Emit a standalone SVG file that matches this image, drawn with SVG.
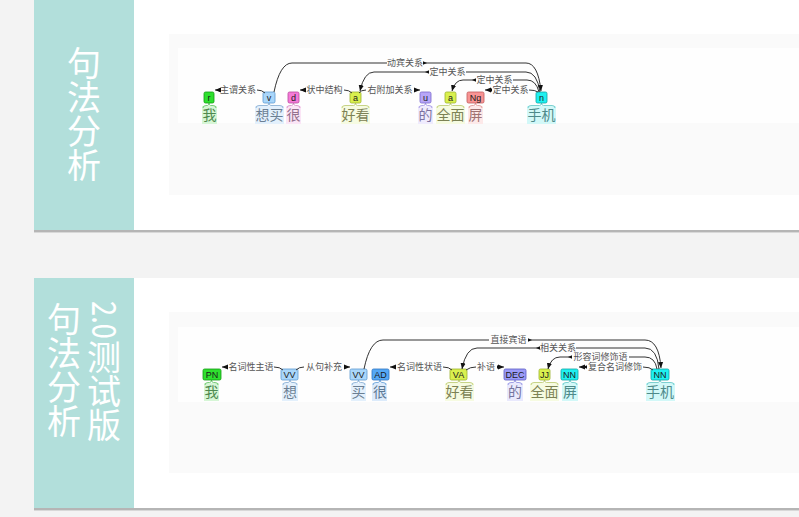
<svg xmlns="http://www.w3.org/2000/svg" width="799" height="517" viewBox="0 0 799 517">
<defs>
<style>
.side{font-family:"Noto Sans CJK SC","Noto Sans",sans-serif;font-size:34px;fill:#ffffff;writing-mode:vertical-rl}
.side2{font-family:"Noto Sans CJK SC","Noto Sans",sans-serif;font-size:34px;fill:#ffffff}
.tag{stroke-width:0.8}
.tt{font-family:"Liberation Sans","Noto Sans",sans-serif;font-size:9px;fill:#1a1a1a;text-anchor:middle}
.wd{font-family:"Noto Sans CJK SC",sans-serif;font-size:14px;text-anchor:middle}
.br{fill:none;stroke-width:0.8}
.lbl{font-family:"Noto Sans CJK SC",sans-serif;font-size:9px;fill:#555555;text-anchor:middle}
.arc{fill:none;stroke:#333333;stroke-width:1}
.tg{marker-start:url(#tick);marker-end:url(#arr)}
</style>
<marker id="arr" viewBox="0 0 6 6" refX="6" refY="3" markerWidth="6" markerHeight="6" markerUnits="userSpaceOnUse" orient="auto"><path d="M0,0.4 L6,3 L0,5.6 z" fill="#111111"/></marker>
<marker id="tick" viewBox="0 0 4 4" refX="0" refY="2" markerWidth="4" markerHeight="4" markerUnits="userSpaceOnUse" orient="auto"><path d="M0,0.2 L4,2 L0,3.8 z" fill="#111111"/></marker>
</defs>
<rect x="0" y="0" width="799" height="517" fill="#f3f3f3"/>
<!-- card 1 -->
<g id="card1">
<rect x="34" y="230" width="765" height="2" fill="#b5b5b5"/>
<rect x="34" y="232" width="765" height="1" fill="#d8d8d8"/>
<rect x="34" y="0" width="765" height="230" fill="#ffffff"/>
<rect x="34" y="0" width="100" height="230" fill="#b2dfdb"/>
<rect x="169" y="34" width="630" height="161" fill="#fafafa"/>
<rect x="178" y="48" width="621" height="75" fill="#fefefe"/>
<text class="side" x="84" y="46">句法分析</text>
</g>
<!-- card 2 -->
<g id="card2">
<rect x="34" y="508" width="765" height="2" fill="#b5b5b5"/>
<rect x="34" y="510" width="765" height="1" fill="#d8d8d8"/>
<rect x="34" y="278" width="765" height="230" fill="#ffffff"/>
<rect x="34" y="278" width="100" height="230" fill="#b2dfdb"/>
<rect x="169" y="312" width="630" height="161" fill="#fafafa"/>
<rect x="178" y="327" width="621" height="75" fill="#fefefe"/>
<text class="side" x="64" y="302">句法分析</text>
<text class="side2" transform="translate(92,301) rotate(90)" textLength="38" lengthAdjust="spacingAndGlyphs">2.0</text>
<text class="side" x="104" y="340">测试版</text>
</g>

<!-- top parse nodes -->
<g id="t-wo">
<rect x="202" y="106" width="15" height="18" fill="#d6f6d6"/>
<path class="br" stroke="#5cbf5c" d="M203,108 Q203,105.5 206,105.5 H207.5 Q209,105.5 209,103 Q209,105.5 210.5,105.5 H213 Q216,105.5 216,108"/>
<rect class="tag" x="204" y="92" width="10" height="11" rx="1.5" fill="#2ee02e" stroke="#139a13"/>
<text class="tt" x="209" y="100.5">r</text>
<text class="wd" x="209.5" y="120" fill="#4f8a4f">我</text>
</g>
<g id="t-xiangmai">
<rect x="255" y="106" width="29" height="18" fill="#e3f0fc"/>
<path class="br" stroke="#7fa8d0" d="M256,108 Q256,105.5 259,105.5 H267 Q269,105.5 269,103 Q269,105.5 271,105.5 H280 Q283,105.5 283,108"/>
<rect class="tag" x="263" y="92" width="12" height="11" rx="1.5" fill="#a9d6fa" stroke="#5e9ad0"/>
<text class="tt" x="269" y="100.5">v</text>
<text class="wd" x="269.5" y="120" fill="#6b7f93">想买</text>
</g>
<g id="t-hen">
<rect x="286" y="106" width="15" height="18" fill="#fbe5f6"/>
<path class="br" stroke="#d685c4" d="M287,108 Q287,105.5 290,105.5 H291.5 Q293.5,105.5 293.5,103 Q293.5,105.5 295.5,105.5 H297 Q300,105.5 300,108"/>
<rect class="tag" x="288" y="92" width="11" height="11" rx="1.5" fill="#f57ad8" stroke="#b84a9e"/>
<text class="tt" x="293.5" y="100.5">d</text>
<text class="wd" x="293.5" y="120" fill="#94708c">很</text>
</g>
<g id="t-haokan">
<rect x="341" y="106" width="29" height="18" fill="#f6fbe1"/>
<path class="br" stroke="#b9c86a" d="M342,108 Q342,105.5 345,105.5 H353.5 Q355.5,105.5 355.5,103 Q355.5,105.5 357.5,105.5 H366 Q369,105.5 369,108"/>
<rect class="tag" x="350" y="92" width="11" height="11" rx="1.5" fill="#d9f04e" stroke="#9cb22e"/>
<text class="tt" x="355.5" y="100.5">a</text>
<text class="wd" x="355.5" y="120" fill="#7c8254">好看</text>
</g>
<g id="t-de">
<rect x="418" y="106" width="15" height="18" fill="#efebfd"/>
<path class="br" stroke="#9c8ee0" d="M419,108 Q419,105.5 422,105.5 H423.5 Q425.5,105.5 425.5,103 Q425.5,105.5 427.5,105.5 H429 Q432,105.5 432,108"/>
<rect class="tag" x="420" y="92" width="11" height="11" rx="1.5" fill="#b7a6f7" stroke="#7a68cc"/>
<text class="tt" x="425.5" y="100.5">u</text>
<text class="wd" x="425.5" y="120" fill="#7c72a0">的</text>
</g>
<g id="t-quanmian">
<rect x="436" y="106" width="29" height="18" fill="#f6fbe1"/>
<path class="br" stroke="#b9c86a" d="M437,108 Q437,105.5 440,105.5 H448.5 Q450.5,105.5 450.5,103 Q450.5,105.5 452.5,105.5 H461 Q464,105.5 464,108"/>
<rect class="tag" x="445" y="92" width="11" height="11" rx="1.5" fill="#d9f04e" stroke="#9cb22e"/>
<text class="tt" x="450.5" y="100.5">a</text>
<text class="wd" x="450.5" y="120" fill="#7c8254">全面</text>
</g>
<g id="t-ping">
<rect x="468" y="106" width="15" height="18" fill="#fde9e9"/>
<path class="br" stroke="#de8e8e" d="M469,108 Q469,105.5 472,105.5 H473.5 Q475.5,105.5 475.5,103 Q475.5,105.5 477.5,105.5 H479 Q482,105.5 482,108"/>
<rect class="tag" x="467" y="92" width="17" height="11" rx="1.5" fill="#f89494" stroke="#c05a5a"/>
<text class="tt" x="475.5" y="100.5">Ng</text>
<text class="wd" x="475.5" y="120" fill="#a07272">屏</text>
</g>
<g id="t-shouji">
<rect x="527" y="106" width="29" height="18" fill="#d2f8f8"/>
<path class="br" stroke="#5cc4c4" d="M528,108 Q528,105.5 531,105.5 H539.5 Q541.5,105.5 541.5,103 Q541.5,105.5 543.5,105.5 H552 Q555,105.5 555,108"/>
<rect class="tag" x="536" y="92" width="11" height="11" rx="1.5" fill="#1ff0f0" stroke="#0fa3a3"/>
<text class="tt" x="541.5" y="100.5">n</text>
<text class="wd" x="541.5" y="120" fill="#4e8a8a">手机</text>
</g>

<!-- bottom parse nodes -->
<g id="b-wo">
<rect x="204" y="383" width="15" height="18" fill="#d6f6d6"/>
<path class="br" stroke="#5cbf5c" d="M205,385 Q205,382.5 208,382.5 H209.5 Q211.5,382.5 211.5,380 Q211.5,382.5 213.5,382.5 H215 Q218,382.5 218,385"/>
<rect class="tag" x="203" y="369" width="18" height="11" rx="1.5" fill="#2ee02e" stroke="#139a13"/>
<text class="tt" x="212" y="377.5">PN</text>
<text class="wd" x="211.5" y="397" fill="#4f8a4f">我</text>
</g>
<g id="b-xiang">
<rect x="282" y="383" width="16" height="18" fill="#e3f0fc"/>
<path class="br" stroke="#7fa8d0" d="M283,385 Q283,382.5 286,382.5 H288 Q290,382.5 290,380 Q290,382.5 292,382.5 H294 Q297,382.5 297,385"/>
<rect class="tag" x="281" y="369" width="17" height="11" rx="1.5" fill="#a9d6fa" stroke="#5e9ad0"/>
<text class="tt" x="289.5" y="377.5">VV</text>
<text class="wd" x="290" y="397" fill="#6b7f93">想</text>
</g>
<g id="b-mai">
<rect x="351" y="383" width="15" height="18" fill="#e3f0fc"/>
<path class="br" stroke="#7fa8d0" d="M352,385 Q352,382.5 355,382.5 H356.5 Q358.5,382.5 358.5,380 Q358.5,382.5 360.5,382.5 H362 Q365,382.5 365,385"/>
<rect class="tag" x="350" y="369" width="17" height="11" rx="1.5" fill="#a9d6fa" stroke="#5e9ad0"/>
<text class="tt" x="358.5" y="377.5">VV</text>
<text class="wd" x="358.5" y="397" fill="#6b7f93">买</text>
</g>
<g id="b-hen">
<rect x="372" y="383" width="15" height="18" fill="#dcebfb"/>
<path class="br" stroke="#5c9ad6" d="M373,385 Q373,382.5 376,382.5 H378 Q380,382.5 380,380 Q380,382.5 382,382.5 H383 Q386,382.5 386,385"/>
<rect class="tag" x="372" y="369" width="17" height="11" rx="1.5" fill="#55a8f5" stroke="#2f74c0"/>
<text class="tt" x="380.5" y="377.5">AD</text>
<text class="wd" x="380" y="397" fill="#5e7a96">很</text>
</g>
<g id="b-haokan">
<rect x="445" y="383" width="29" height="18" fill="#f6fbe1"/>
<path class="br" stroke="#b9c86a" d="M446,385 Q446,382.5 449,382.5 H457 Q459,382.5 459,380 Q459,382.5 461,382.5 H470 Q473,382.5 473,385"/>
<rect class="tag" x="450" y="369" width="17" height="11" rx="1.5" fill="#d9f04e" stroke="#9cb22e"/>
<text class="tt" x="458.5" y="377.5">VA</text>
<text class="wd" x="459.5" y="397" fill="#7c8254">好看</text>
</g>
<g id="b-de">
<rect x="507" y="383" width="16" height="18" fill="#e9e9fd"/>
<path class="br" stroke="#8a8ae0" d="M508,385 Q508,382.5 511,382.5 H513 Q515,382.5 515,380 Q515,382.5 517,382.5 H519 Q522,382.5 522,385"/>
<rect class="tag" x="504" y="369" width="22" height="11" rx="1.5" fill="#9b9bf7" stroke="#5c5cc4"/>
<text class="tt" x="515" y="377.5">DEC</text>
<text class="wd" x="515" y="397" fill="#7474a0">的</text>
</g>
<g id="b-quanmian">
<rect x="530" y="383" width="29" height="18" fill="#f6fbe1"/>
<path class="br" stroke="#b9c86a" d="M531,385 Q531,382.5 534,382.5 H542.5 Q544.5,382.5 544.5,380 Q544.5,382.5 546.5,382.5 H555 Q558,382.5 558,385"/>
<rect class="tag" x="539" y="369" width="11" height="11" rx="1.5" fill="#d9f04e" stroke="#9cb22e"/>
<text class="tt" x="544.5" y="377.5">JJ</text>
<text class="wd" x="544.5" y="397" fill="#7c8254">全面</text>
</g>
<g id="b-ping">
<rect x="562" y="383" width="16" height="18" fill="#d2f8f8"/>
<path class="br" stroke="#5cc4c4" d="M563,385 Q563,382.5 566,382.5 H568 Q570,382.5 570,380 Q570,382.5 572,382.5 H574 Q577,382.5 577,385"/>
<rect class="tag" x="561" y="369" width="17" height="11" rx="1.5" fill="#1ff0f0" stroke="#0fa3a3"/>
<text class="tt" x="569.5" y="377.5">NN</text>
<text class="wd" x="570" y="397" fill="#4e8a8a">屏</text>
</g>
<g id="b-shouji">
<rect x="646" y="383" width="29" height="18" fill="#d2f8f8"/>
<path class="br" stroke="#5cc4c4" d="M647,385 Q647,382.5 650,382.5 H658 Q660,382.5 660,380 Q660,382.5 662,382.5 H671 Q674,382.5 674,385"/>
<rect class="tag" x="651" y="369" width="18" height="11" rx="1.5" fill="#1ff0f0" stroke="#0fa3a3"/>
<text class="tt" x="660" y="377.5">NN</text>
<text class="wd" x="660" y="397" fill="#4e8a8a">手机</text>
</g>

<!-- connectors -->
<g id="connectors">
<!-- top -->
<path class="arc tg" d="M220,90 L215,90"/>
<path class="arc" d="M257,90 Q262,90 265,93"/>
<text class="lbl" x="238" y="93.3">主谓关系</text>
<path class="arc tg" d="M305,90 L300,90"/>
<path class="arc" d="M344,90 Q349,90 352,93"/>
<text class="lbl" x="324.5" y="93.3">状中结构</text>
<path class="arc" d="M366,90 Q361,90 359,93"/>
<path class="arc tg" d="M414,90 L420,90"/>
<text class="lbl" x="390" y="93.3">右附加关系</text>
<path class="arc tg" d="M492,90 L485,90"/>
<path class="arc" d="M529,90 Q535,90 538,92"/>
<text class="lbl" x="510.5" y="93.3">定中关系</text>
<path class="arc tg" d="M476,80 H463 Q455,80 452,91"/>
<path class="arc" d="M513,80 H527 Q536,80 539,92"/>
<text class="lbl" x="494.5" y="83.3">定中关系</text>
<path class="arc tg" d="M429,72 H374 Q364,72 360,91"/>
<path class="arc" d="M466,72 H526 Q537,72 540,92"/>
<text class="lbl" x="447.5" y="75.3">定中关系</text>
<path class="arc" d="M387,63 H292 Q280,63 274,92"/>
<path class="arc tg" d="M423,63 H526 Q538,63 541,91"/>
<text class="lbl" x="405" y="66.3">动宾关系</text>
<!-- bottom -->
<path class="arc tg" d="M228,367 L222,367"/>
<path class="arc" d="M274,367 Q280,367 283,370"/>
<text class="lbl" x="251" y="370.3">名词性主语</text>
<path class="arc" d="M304,367 Q299,367 296,370"/>
<path class="arc tg" d="M344,367 L350,367"/>
<text class="lbl" x="324" y="370.3">从句补充</text>
<path class="arc tg" d="M396,367 L390,367"/>
<path class="arc" d="M443,367 Q449,367 452,370"/>
<text class="lbl" x="419.5" y="370.3">名词性状语</text>
<path class="arc" d="M476,367 Q470,367 466,370"/>
<path class="arc tg" d="M497,367 L504,367"/>
<text class="lbl" x="486" y="370.3">补语</text>
<path class="arc tg" d="M587,367 L579,367"/>
<path class="arc" d="M643,367 Q650,367 653,370"/>
<text class="lbl" x="615" y="370.3">复合名词修饰</text>
<path class="arc tg" d="M572,357 H560 Q551,357 548,369"/>
<path class="arc" d="M629,357 H645 Q655,357 657,369"/>
<text class="lbl" x="600.5" y="360.3">形容词修饰语</text>
<path class="arc tg" d="M540,348 H477 Q466,348 462,369"/>
<path class="arc" d="M576,348 H645 Q657,348 659,369"/>
<text class="lbl" x="558" y="351.3">相关关系</text>
<path class="arc" d="M489,340 H383 Q370,340 364,369"/>
<path class="arc tg" d="M528,340 H645 Q659,340 661,368"/>
<text class="lbl" x="508.5" y="343.3">直接宾语</text>
</g>
</svg>
